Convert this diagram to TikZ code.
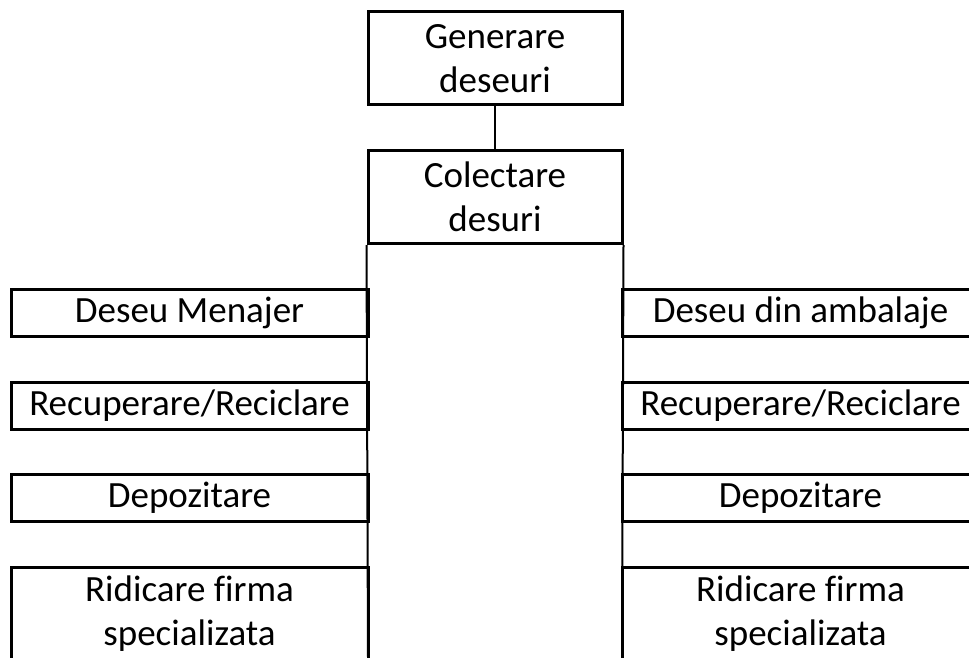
\documentclass[tikz,border=0pt]{standalone}
\usepackage{fontspec}
\setmainfont{Carlito}[Ligatures=NoCommon]
\usetikzlibrary{positioning}

\begin{document}
\begin{tikzpicture}[x=1pt,y=-1pt,on grid,
        box/.style={draw,line width=3pt,inner sep=0pt,align=center,font=\fontsize{37}{44}\selectfont},
        bigbox/.style={box,minimum width=254pt,minimum height=93pt},
        sidebox/.style={box,minimum width=357pt,minimum height=47pt},
        tallbox/.style={box,minimum width=357pt,minimum height=94pt}]
        \useasboundingbox (0,0) rectangle (969,658);
        \clip (0,0) rectangle (969,658);
        \node[bigbox] (gen) at (495,58.5) {Generare\\deseuri};
        \node[bigbox] (col) [below=138.5pt of gen] {Colectare\\desuri};
        % ramura stanga
        \node[sidebox] (men) at (189.5,312.5) {Deseu Menajer};
        \node[sidebox] (rec_l) [below=93.5pt of men] {Recuperare/Reciclare};
        \node[sidebox] (dep_l) [below=92pt of rec_l] {Depozitare};
        \node[tallbox] (rid_l) [below=116pt of dep_l] {Ridicare firma\\specializata};
        % ramura dreapta
        \node[sidebox] (amb) at (800.5,312.5) {Deseu din ambalaje};
        \node[sidebox] (rec_r) [below=93.5pt of amb] {Recuperare/Reciclare};
        \node[sidebox] (dep_r) [below=92pt of rec_r] {Depozitare};
        \node[tallbox] (rid_r) [below=116pt of dep_r] {Ridicare firma\\specializata};
        \coordinate (bl) at (368,658);
        \coordinate (br) at (622,658);
        \path[line width=2pt]
        (gen) edge (col)
        (col.south west) edge (bl)
        (col.south east) edge (br);
    \end{tikzpicture}
\end{document}
